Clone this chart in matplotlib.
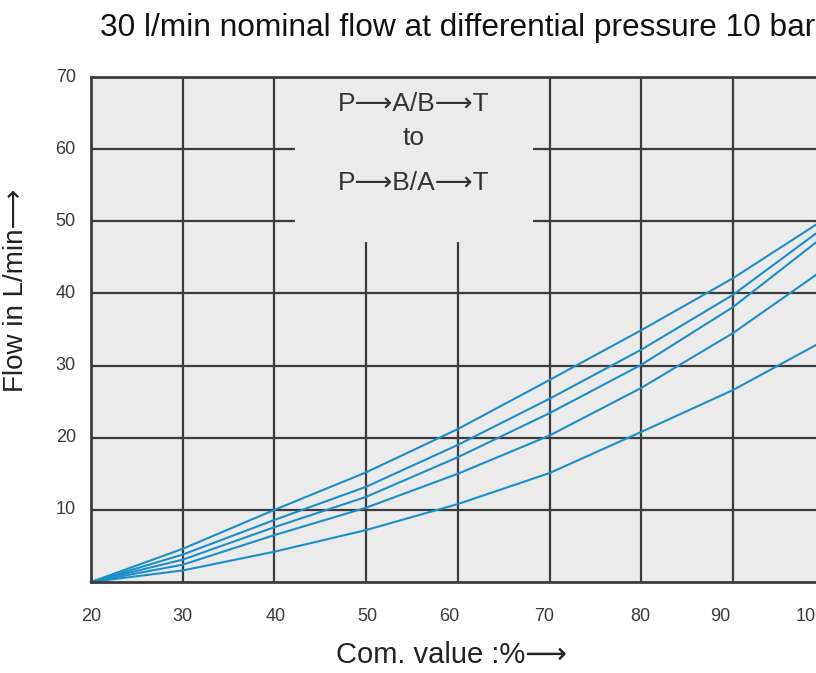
import matplotlib
matplotlib.use("Agg")
import matplotlib.pyplot as plt
from matplotlib.patches import Rectangle
from matplotlib.transforms import offset_copy

plt.rcParams["font.family"] = ["Liberation Sans", "DejaVu Sans"]

# command value (%) and flow readings (L/min) for the five curves
com_value = [20, 30, 40, 50, 60, 70, 80, 90, 100]
flow_1 = [0, 4.6, 10.0, 15.2, 21.2, 28.0, 34.9, 42.1, 50.3]
flow_2 = [0, 3.8, 8.6, 13.2, 19.0, 25.4, 32.2, 39.8, 49.2]
flow_3 = [0, 3.1, 7.6, 11.8, 17.3, 23.4, 30.1, 38.1, 48.0]
flow_4 = [0, 2.4, 6.5, 10.3, 15.0, 20.3, 26.9, 34.5, 43.4]
flow_5 = [0, 1.6, 4.2, 7.2, 10.8, 15.1, 20.8, 26.6, 33.5]

x_ticks = [20, 30, 40, 50, 60, 70, 80, 90, 100]
y_ticks = [10, 20, 30, 40, 50, 60, 70]
label_lines = ["P\u27f6A/B\u27f6T", "to", "P\u27f6B/A\u27f6T"]

grid_c = "#3c3c3c"
bg_c = "#ebebeb"
curve_c = "#1e8ec9"

fig = plt.figure(figsize=(8.16, 6.73), dpi=100)
ax = fig.add_axes([91 / 816, 1 - 582 / 673, 1 - 91 / 816, (582 - 77) / 673])
ax.set_facecolor(bg_c)
ax.set_xlim(20, 99.06)
ax.set_ylim(0, 70)

# grid
ax.vlines(x_ticks[1:-1], 0, 70, color=grid_c, lw=1.6, zorder=1)
ax.hlines(y_ticks[:-1], 20, 100, color=grid_c, lw=1.6, zorder=1)

# blank box behind the annotation
ax.add_patch(Rectangle((42.2, 47.1), 68.2 - 42.2, 70 - 47.1,
                       facecolor=bg_c, edgecolor="none", zorder=2))
for txt, yv in zip(label_lines, [66.3, 61.5, 55.3]):
    ax.text(55.2, yv, txt, ha="center", va="center", fontsize=19,
            color="#333333", zorder=4)

for f in [flow_1, flow_2, flow_3, flow_4, flow_5]:
    ax.plot(com_value, f, color=curve_c, lw=1.5, zorder=3, clip_on=False)

for s in ["left", "bottom", "top"]:
    ax.spines[s].set_color(grid_c)
    ax.spines[s].set_linewidth(2.0)
    ax.spines[s].set_zorder(5)
ax.spines["right"].set_visible(False)

ax.set_xticks([])
ax.set_yticks([])
ax.tick_params(length=0)

# tick labels drawn as text so 100 can run off the edge;
# the original labels sit a little left of their grid lines
x_shift_pt = [0, 0, 1, 1, -6, -4, -1, -9, -10]
trans_x = ax.get_xaxis_transform()
for v, dx in zip(x_ticks, x_shift_pt):
    tr = offset_copy(trans_x, fig=fig, x=dx, y=0, units="points")
    ax.text(v, -0.068, str(v), transform=tr, ha="center", va="center",
            fontsize=13, color="#3a3a3a", clip_on=False)
trans_y = ax.get_yaxis_transform()
for v in y_ticks:
    ax.text(-0.021, v, str(v), transform=trans_y, ha="right", va="center",
            fontsize=13, color="#3a3a3a", clip_on=False)

fig.text(100 / 816, 1 - 28 / 673, "30 l/min nominal flow at differential pressure 10 bar",
         ha="left", va="center", fontsize=22.8, color="#111111")
fig.text(452 / 816, 1 - 655 / 673, "Com. value :%\u27f6", ha="center", va="center",
         fontsize=21, color="#222222")
fig.text(16 / 816, 1 - 290 / 673, "Flow in L/min\u27f6", ha="center", va="center",
         rotation=90, fontsize=20, color="#222222")

fig.savefig("out.png", dpi=100)
